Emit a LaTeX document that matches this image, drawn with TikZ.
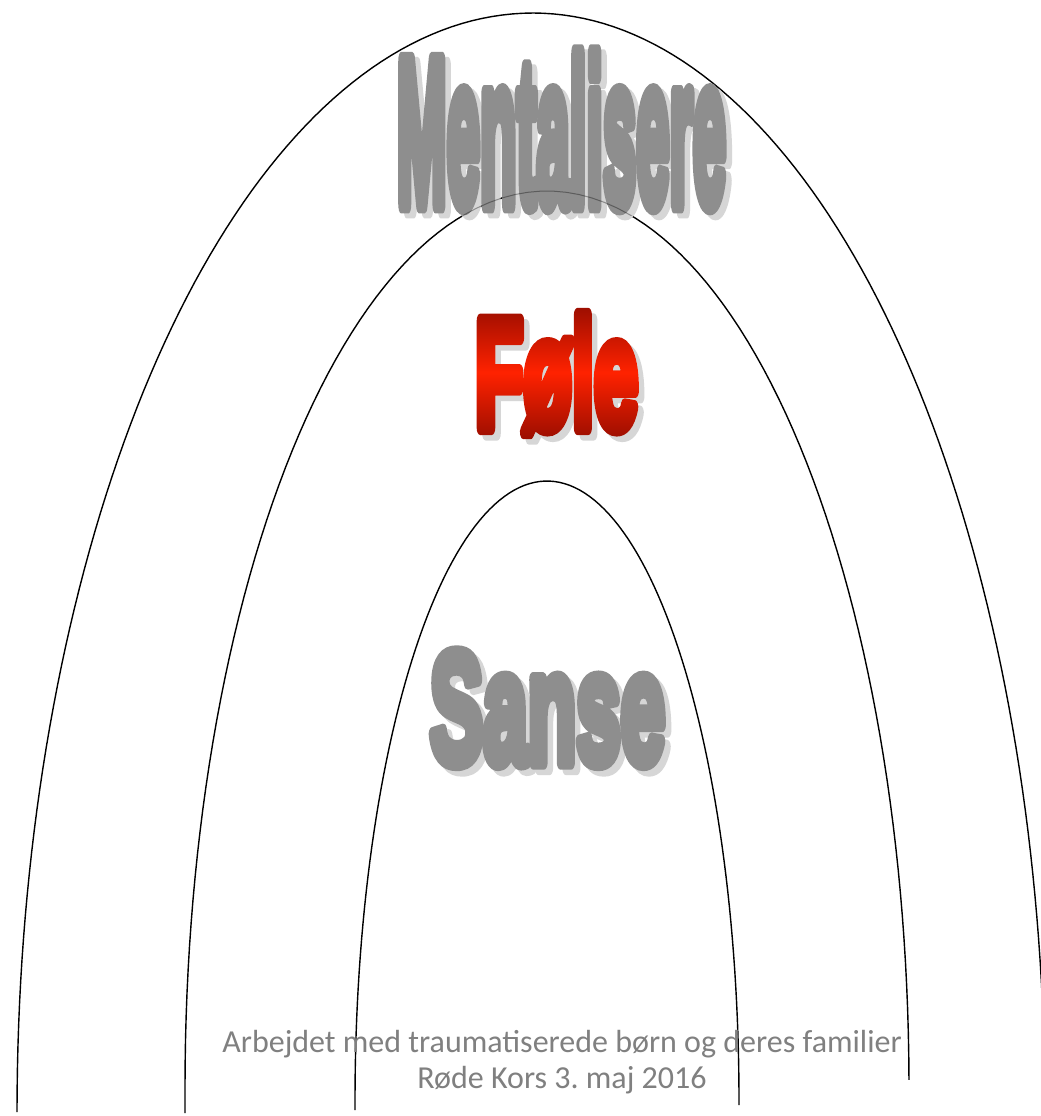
\documentclass[tikz,border=0pt]{standalone}
\usepackage{fontspec}
\usetikzlibrary{fadings}
\setmainfont{Carlito}
\newfontfamily\wafont{Liberation Sans}[BoldFeatures={FakeBold=9}]
\definecolor{wagrey}{HTML}{8E8E8E}
\definecolor{washadow}{HTML}{D6D6D6}
\definecolor{footgrey}{HTML}{808080}
\definecolor{reddark}{HTML}{8B0A00}
\definecolor{redbright}{HTML}{FF2200}
\newcommand{\waword}[3]{\raisebox{0pt}[#3][0pt]{\resizebox{#2}{#3}{\wafont\bfseries #1}}}
\begin{tikzfadingfrompicture}[name=folefade]
  \useasboundingbox (-110pt,-90pt) rectangle (110pt,90pt);
  \node[inner sep=0pt, anchor=center, line join=round, text=transparent!0] at (0,0) {\waword{Føle}{163pt}{113pt}};
\end{tikzfadingfrompicture}
\begin{document}
\frenchspacing
\begin{tikzpicture}[x=1pt, y=-1pt,
  arch/.style={line width=1.4pt, black},
  wa/.style={inner sep=0pt, anchor=center, line join=round},
  foot/.style={inner sep=0pt, anchor=base, text=footgrey, font=\fontsize{32}{36}\selectfont}]
\useasboundingbox (0,0) rectangle (1041,1116);
\clip (0,0) rectangle (1041,1116);
\fill[white] (0,0) rectangle (1041,1116);

% outer arch
\draw[arch] plot[domain=180:90, samples=80] ({533+516*cos(\x)},{1112-1099*sin(\x)})
  -- plot[domain=90:0, samples=80] ({533+512*cos(\x)},{1112-1099*sin(\x)});
% middle arch
\draw[arch] (185,1113) -- plot[domain=180:0.45, samples=120] ({547+362*cos(\x)},{1087-896*sin(\x)});
% inner arch
\draw[arch] (355,1110) -- plot[domain=180:0, samples=120] ({547+192*cos(\x)},{1100-619*sin(\x)}) -- (739,1105);

% Mentalisere
\node[wa, text=washadow] (mshadow) at (567,134) {\waword{Mentalisere}{329pt}{150pt}};
\node[wa, text=wagrey] (ment) at (561.5,129) {\waword{Mentalisere}{329pt}{150pt}};
% arch faintly visible through the word
\begin{scope}
  \clip (440,150) rectangle (680,215);
  \draw[line width=1pt, black, opacity=0.35] plot[domain=150:30, samples=60] ({547+362*cos(\x)},{1087-896*sin(\x)});
\end{scope}

% Føle
\node[wa, text=washadow] (fshadow) at (562,377) {\waword{Føle}{163pt}{113pt}};
\shade[path fading=folefade, fit fading=false, fading transform={shift={(556.5,371.5)}},
  top color=reddark, bottom color=reddark, middle color=redbright]
  (455,295) rectangle (660,450);

% Sanse
\node[wa, text=washadow] (sshadow) at (553,713) {\waword{Sanse}{235pt}{110pt}};
\node[wa, text=wagrey] (sanse) at (547.5,707.5) {\waword{Sanse}{235pt}{110pt}};

% footer
\node[foot] (f1) at (562,1052) {Arbejdet med traumatiserede børn og deres familier};
\node[foot] (f2) at (562,1088) {Røde Kors 3. maj 2016};
\end{tikzpicture}
\end{document}
